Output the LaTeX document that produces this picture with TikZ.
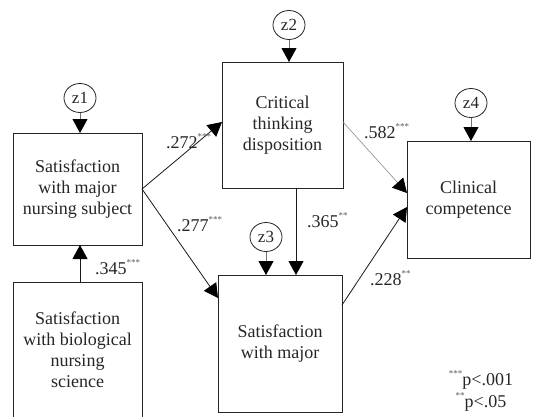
\documentclass[tikz,border=0pt]{standalone}
\usepackage{fontspec}
\setmainfont{Liberation Serif}
\usetikzlibrary{arrows.meta,shapes.geometric}
\newcommand\sigstars[1]{\raisebox{0.5em}{\fontsize{9}{9}\selectfont\textcolor{black!65}{#1}}}
\begin{document}
\begin{tikzpicture}[x=1pt,y=-1pt,
  every node/.style={inner sep=0pt, outer sep=0pt},
  varbox/.style={draw=black!85, line width=0.9pt, rectangle, align=center, text=black!85, font=\fontsize{18}{21}\selectfont, anchor=center},
  errc/.style={draw=black!85, line width=0.8pt, ellipse, minimum width=32pt, minimum height=29pt, text=black!85, font=\fontsize{17}{17}\selectfont},
  conn/.style={draw=black!90, line width=0.8pt, -{Triangle[length=14pt,width=15pt,color=black]}},
  lightconn/.style={draw=black!45, line width=0.6pt, -{Triangle[length=14pt,width=15pt,color=black]}},
  errarr/.style={draw=black!55, line width=0.8pt, -{Triangle[length=14pt,width=15pt,color=black]}},
  lab/.style={anchor=base west, text=black!85, font=\fontsize{18}{18}\selectfont},
  note/.style={anchor=base, text=black!85, font=\fontsize{18}{18}\selectfont}
]
\useasboundingbox (0,0) rectangle (533,416);
\fill[white] (0,0) rectangle (533,416);

% boxes
\node[varbox, minimum width=129pt, minimum height=112pt] (sms) at (77.5,189) {Satisfaction\\with major\\nursing subject};
\node[varbox, minimum width=129pt, minimum height=136pt] (sbn) at (77.5,350) {Satisfaction\\with biological\\nursing\\science};
\node[varbox, minimum width=121pt, minimum height=126pt] (ctd) at (282.5,125) {Critical\\thinking\\disposition};
\node[varbox, minimum width=124pt, minimum height=137pt] (swm) at (280,343.5) {Satisfaction\\with major};
\node[varbox, minimum width=123pt, minimum height=117pt] (cc) at (468.5,199.5) {Clinical\\competence};

% error terms
\node[errc] (z1) at (80,98) {z1};
\node[errc] (z2) at (289,25) {z2};
\node[errc] (z3) at (266,237) {z3};
\node[errc] (z4) at (471,103) {z4};

\draw[errarr] (z1.south) -- (z1.south |- sms.north);
\draw[errarr] (z2.south) -- (z2.south |- ctd.north);
\draw[errarr] (z3.south) -- (z3.south |- swm.north);
\draw[errarr] (z4.south) -- (z4.south |- cc.north);

% paths
\coordinate (bx) at (80,0);
\coordinate (vx) at (296,0);
\draw[conn] (bx |- sbn.north) -- (bx |- sms.south);
\draw[conn] (sms.east) -- ([yshift=3pt]ctd.west);
\draw[conn] (sms.east) -- ([yshift=-23pt]swm.north west);
\draw[conn] (vx |- ctd.south) -- (vx |- swm.north);
\draw[lightconn] ([yshift=3pt]ctd.east) -- ([yshift=6.5pt]cc.west);
\draw[conn] ([yshift=-30pt]swm.north east) -- ([yshift=-7.5pt]cc.west);

% coefficients
\node[lab] (l345) at (95,274) {.345\sigstars{***}};
\node[lab] (l272) at (166,148) {.272\sigstars{***}};
\node[lab] (l277) at (177,231) {.277\sigstars{***}};
\node[lab] (l365) at (307,227) {.365\sigstars{**}};
\node[lab] (l582) at (364,138) {.582\sigstars{***}};
\node[lab] (l228) at (370,285) {.228\sigstars{**}};

% note
\node[note] (n1) at (481,385) {\sigstars{***}p<.001};
\node[note] (n2) at (481,407) {\sigstars{**}p<.05};
\end{tikzpicture}
\end{document}
